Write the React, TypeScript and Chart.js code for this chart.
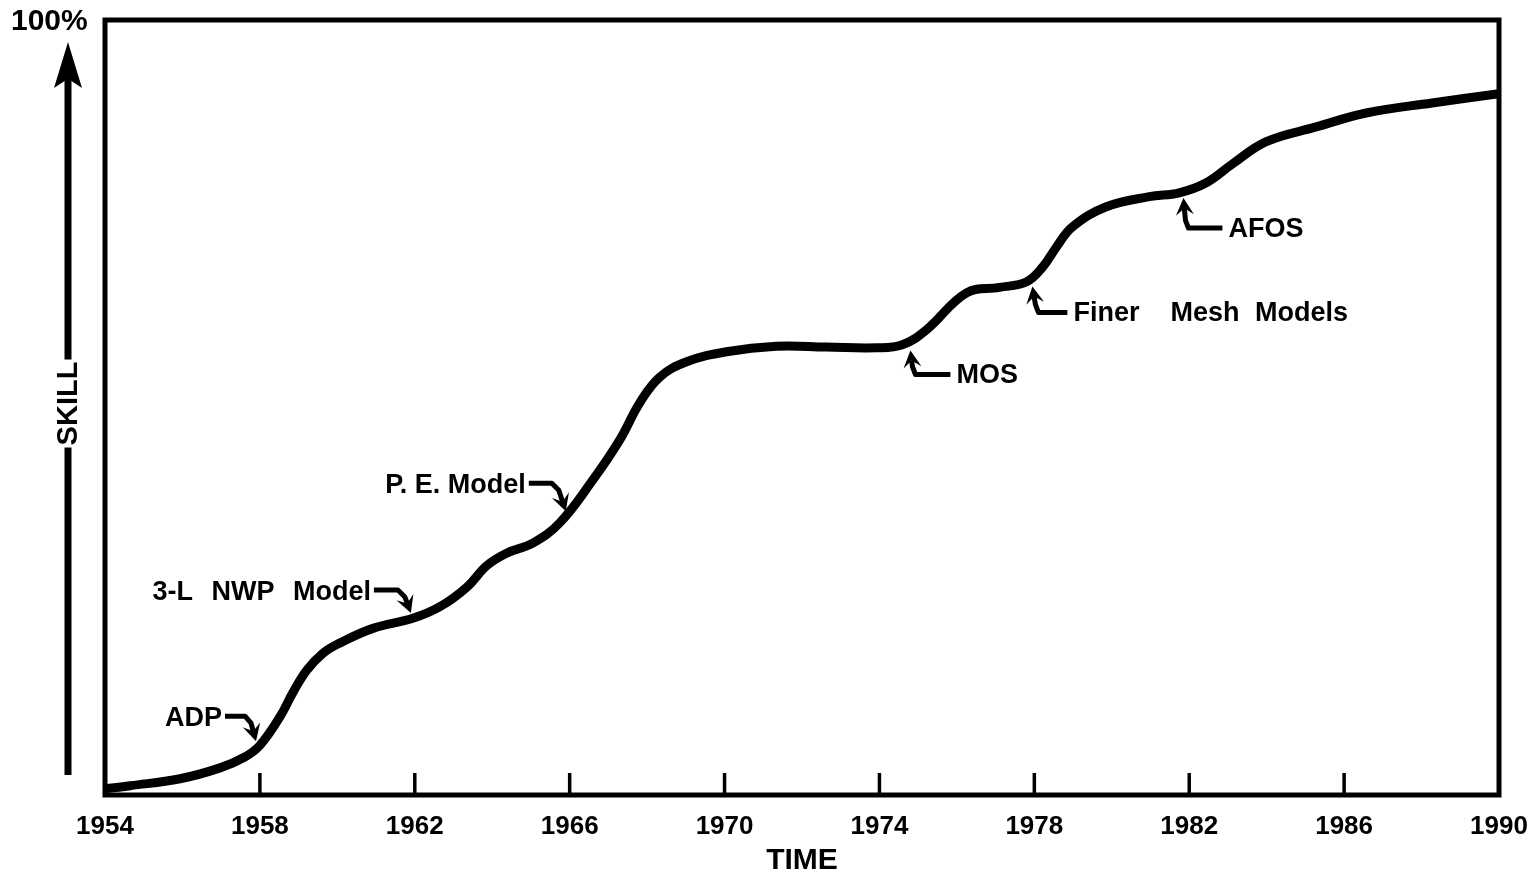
import React, { useEffect, useRef } from 'react';
import { Chart, registerables } from 'chart.js';

Chart.register(...registerables);

// ---- data ----
const years = [1954.0, 1954.65, 1955.94, 1956.97, 1957.61, 1958.0, 1958.52, 1958.85, 1959.21, 1959.63, 1960.06, 1960.92, 1961.95, 1962.65, 1963.34, 1963.86, 1964.37, 1965.05, 1965.74, 1966.59, 1967.29, 1967.81, 1968.32, 1969.02, 1970.05, 1971.34, 1972.63, 1973.92, 1974.59, 1975.21, 1976.25, 1977.1, 1977.79, 1978.21, 1978.57, 1978.98, 1979.86, 1980.97, 1981.74, 1982.44, 1983.11, 1983.99, 1985.28, 1986.57, 1988.27, 1990.0];
const skill = [0.8, 1.2, 2.1, 3.5, 4.9, 6.4, 10.1, 13.2, 16.1, 18.3, 19.6, 21.5, 22.8, 24.3, 26.8, 29.6, 31.2, 32.5, 35.1, 40.6, 45.8, 50.6, 53.9, 55.9, 57.2, 57.9, 57.8, 57.7, 58.1, 60.0, 64.8, 65.5, 66.2, 68.1, 70.7, 73.3, 75.9, 77.2, 77.7, 79.0, 81.4, 84.3, 86.2, 88.0, 89.3, 90.5];

const xTickValues = [1954, 1958, 1962, 1966, 1970, 1974, 1978, 1982, 1986, 1990];
const xTickLabels = ['1954', '1958', '1962', '1966', '1970', '1974', '1978', '1982', '1986', '1990'];

const annotLabels = ['ADP', '3-L NWP Model', 'P. E. Model', 'MOS', 'Finer  Mesh Models', 'AFOS'];
const annotYears = [1957.9, 1961.9, 1965.9, 1974.8, 1977.95, 1981.85];
const annotSkill = [6.3, 22.7, 35.7, 58.0, 66.4, 77.8];

const yAxisTop = '100%';
const yAxisTitle = 'SKILL';
const xAxisTitle = 'TIME';

// ---- styling for the annotation arrows (pixel offsets from curve point) ----
const annotStyle = [
  { side: 'left', tipDy: -5, word: 0, path: [[-31, -25], [-11, -25], [-5, -18], [0, 0]] },
  { side: 'left', tipDy: -6, word: 11, path: [[-37, -23], [-13, -23], [-6, -16], [0, 0]] },
  { side: 'left', tipDy: -7, word: 0, path: [[-37, -28], [-14, -28], [-7, -21], [0, 0]] },
  { side: 'right', tipDy: 5, word: 0, path: [[40, 24], [5, 24], [2, 16], [0, 0]] },
  { side: 'right', tipDy: 6, word: 8, path: [[35, 26], [6, 26], [3, 18], [0, 0]] },
  { side: 'right', tipDy: 6, word: 0, path: [[39, 30], [5, 30], [2, 22], [0, 0]] },
];

const FONT = "'Liberation Sans', Arial, Helvetica, sans-serif";

function arrowHead(ctx: CanvasRenderingContext2D, fx: number, fy: number, tx: number, ty: number, len: number, hw: number, notch: number) {
  const a = Math.atan2(ty - fy, tx - fx);
  const c = Math.cos(a), s = Math.sin(a);
  const bx = tx - len * c, by = ty - len * s;
  ctx.beginPath();
  ctx.moveTo(tx, ty);
  ctx.lineTo(bx - hw * s, by + hw * c);
  ctx.lineTo(tx - len * notch * c, ty - len * notch * s);
  ctx.lineTo(bx + hw * s, by - hw * c);
  ctx.closePath();
  ctx.fill();
}

const decorPlugin = {
  id: 'decor',
  afterDraw(chart: any) {
    const { ctx, chartArea } = chart;
    const xs = chart.scales.x;
    const ys = chart.scales.y;
    const { left, right, top, bottom } = chartArea;
    ctx.save();
    ctx.strokeStyle = '#000';
    ctx.fillStyle = '#000';

    // frame
    ctx.lineWidth = 5;
    ctx.lineJoin = 'miter';
    ctx.strokeRect(left, top, right - left, bottom - top);

    // inward ticks
    ctx.lineWidth = 3.5;
    xTickValues.slice(1, -1).forEach((v) => {
      const x = xs.getPixelForValue(v);
      ctx.beginPath();
      ctx.moveTo(x, bottom);
      ctx.lineTo(x, bottom - 22);
      ctx.stroke();
    });

    // y axis arrow and labels
    const ax = left - 37;
    const midY = (ys.getPixelForValue(0) + ys.getPixelForValue(100)) / 2 - 4;
    ctx.lineWidth = 7;
    ctx.lineCap = 'butt';
    ctx.beginPath();
    ctx.moveTo(ax, bottom - 20);
    ctx.lineTo(ax, midY + 44);
    ctx.moveTo(ax, midY - 44);
    ctx.lineTo(ax, top + 55);
    ctx.stroke();
    arrowHead(ctx, ax, bottom, ax, top + 22, 46, 14, 0.8);

    ctx.font = `bold 30px ${FONT}`;
    ctx.textAlign = 'left';
    ctx.textBaseline = 'middle';
    ctx.fillText(yAxisTop, 11, top + 2);

    ctx.save();
    ctx.translate(ax, midY);
    ctx.rotate(-Math.PI / 2);
    ctx.textAlign = 'center';
    ctx.textBaseline = 'middle';
    ctx.font = `bold 29px ${FONT}`;
    ctx.fillText(yAxisTitle, 0, 1);
    ctx.restore();

    // annotations
    ctx.font = `bold 27px ${FONT}`;
    ctx.lineWidth = 5;
    ctx.lineJoin = 'round';
    annotLabels.forEach((label, i) => {
      const st = annotStyle[i];
      const tx = xs.getPixelForValue(annotYears[i]);
      const ty = ys.getPixelForValue(annotSkill[i]) + st.tipDy;
      const pts = st.path.map(([dx, dy]) => [tx + dx, ty + dy]);
      const p2 = pts[2];
      const a = Math.atan2(ty - p2[1], tx - p2[0]);
      const endX = tx - 10 * Math.cos(a);
      const endY = ty - 10 * Math.sin(a);
      ctx.beginPath();
      ctx.moveTo(pts[0][0], pts[0][1]);
      ctx.lineTo(pts[1][0], pts[1][1]);
      ctx.lineTo(pts[2][0], pts[2][1]);
      ctx.lineTo(endX, endY);
      ctx.stroke();
      arrowHead(ctx, p2[0], p2[1], tx, ty, 17, 9, 0.6);
      ctx.textBaseline = 'middle';
      (ctx as any).wordSpacing = `${st.word}px`;
      if (st.side === 'left') {
        ctx.textAlign = 'right';
        ctx.fillText(label, pts[0][0] - 3, pts[0][1] + 2);
      } else {
        ctx.textAlign = 'left';
        ctx.fillText(label, pts[0][0] + 6, pts[0][1] + 1);
      }
      (ctx as any).wordSpacing = '0px';
    });
    ctx.restore();
  },
};

export default function App() {
  const canvasRef = useRef<HTMLCanvasElement | null>(null);

  useEffect(() => {
    document.body.style.margin = '0';
    const canvas = canvasRef.current;
    if (!canvas) return;
    const chart = new Chart(canvas, {
      type: 'line',
      data: {
        datasets: [
          {
            data: years.map((y, i) => ({ x: y, y: skill[i] })),
            borderColor: '#000',
            borderWidth: 9,
            pointRadius: 0,
            tension: 0.4,
            borderCapStyle: 'round',
            borderJoinStyle: 'round',
            fill: false,
          },
        ],
      },
      options: {
        animation: false,
        responsive: false,
        devicePixelRatio: 1,
        layout: { padding: { left: 105, right: 35, top: 20, bottom: 0 } },
        plugins: { legend: { display: false }, tooltip: { enabled: false } },
        scales: {
          x: {
            type: 'linear',
            min: 1954,
            max: 1990,
            afterBuildTicks: (scale: any) => {
              scale.ticks = xTickValues.map((v) => ({ value: v }));
            },
            afterFit: (scale: any) => {
              scale.height = 82;
              scale.paddingLeft = 0;
              scale.paddingRight = 0;
            },
            grid: { display: false, drawTicks: false },
            border: { display: false },
            ticks: {
              padding: 16,
              color: '#000',
              maxRotation: 0,
              autoSkip: false,
              font: { family: FONT, size: 26, weight: 'bold' },
              callback: (v: any) => {
                const idx = xTickValues.indexOf(Number(v));
                return idx >= 0 ? xTickLabels[idx] : '';
              },
            },
            title: {
              display: true,
              text: xAxisTitle,
              color: '#000',
              padding: { top: 0, bottom: -2 },
              font: { family: FONT, size: 30, weight: 'bold', lineHeight: 1.2 },
            },
          },
          y: {
            display: false,
            min: 0,
            max: 100,
          },
        },
      },
      plugins: [decorPlugin],
    } as any);
    return () => chart.destroy();
  }, []);

  return (
    <div style={{ position: 'absolute', left: 0, top: 0, width: 1534, height: 877, background: '#fff' }}>
      <canvas ref={canvasRef} width={1534} height={877} />
    </div>
  );
}
